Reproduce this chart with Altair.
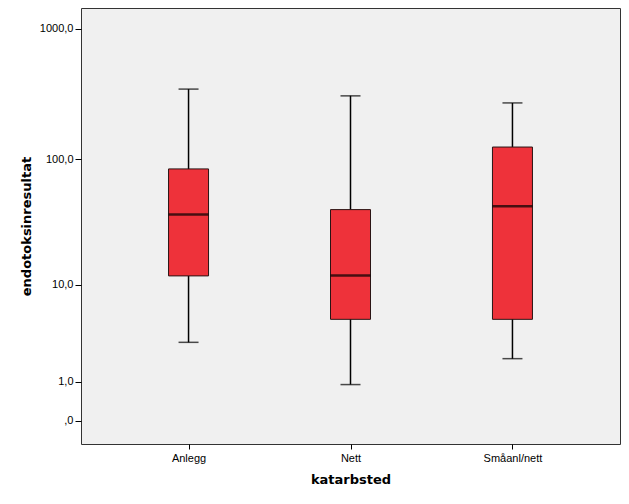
import altair as alt
import pandas as pd

categories = ["Anlegg", "Nett", "Småanl/nett"]
whisker_low = [3.0, 0.9, 2.0]
q1 = [11.9, 5.0, 5.0]
median = [37.0, 12.0, 43.0]
q3 = [84.0, 40.5, 124.0]
whisker_high = [346.0, 307.0, 271.0]
y_ticks = [0, 1, 10, 100, 1000]

df = pd.DataFrame({
    "cat": categories,
    "lo": whisker_low,
    "q1": q1,
    "med": median,
    "q3": q3,
    "hi": whisker_high,
})

yscale = alt.Scale(type="symlog", constant=1, domain=[-0.5, 1448], nice=False, zero=False)
xscale = alt.Scale(type="point", padding=0.664, domain=categories)

xaxis = alt.Axis(
    title="katarbsted", labelAngle=0, domain=False, ticks=True, tickSize=5,
    tickColor="#000", labelFont="Liberation Sans", labelFontSize=11, labelColor="#000",
    labelPadding=3, titleFont="DejaVu Sans", titleFontSize=13, titleFontWeight="bold",
    titleColor="#000", titlePadding=10, grid=False,
)
yaxis = alt.Axis(
    title="endotoksinresultat", values=y_ticks, domain=False, ticks=True, tickSize=6,
    tickColor="#000", labelFont="Liberation Sans", labelFontSize=11, labelColor="#000",
    labelPadding=2,
    labelExpr="datum.value == 0 ? ',0' : replace(format(datum.value, '.1f'), '.', ',')",
    titleFont="DejaVu Sans", titleFontSize=13, titleFontWeight="bold", titleColor="#000",
    titlePadding=6, grid=False,
)

base = alt.Chart(df)

whisk = base.mark_rule(color="#000", strokeWidth=1.5).encode(
    x=alt.X("cat:N", scale=xscale, axis=xaxis, sort=categories),
    y=alt.Y("lo:Q", scale=yscale, axis=yaxis),
    y2="hi:Q",
)
cap_lo = base.mark_tick(color="#000", size=20, thickness=1.5, orient="horizontal").encode(
    x=alt.X("cat:N", scale=xscale, sort=categories),
    y=alt.Y("lo:Q", scale=yscale),
)
cap_hi = base.mark_tick(color="#000", size=20, thickness=1.5, orient="horizontal").encode(
    x=alt.X("cat:N", scale=xscale, sort=categories),
    y=alt.Y("hi:Q", scale=yscale),
)
box = base.mark_bar(size=40, fill="#EE323A", stroke="#2a1414", strokeWidth=1).encode(
    x=alt.X("cat:N", scale=xscale, sort=categories),
    y=alt.Y("q1:Q", scale=yscale),
    y2="q3:Q",
)
med = base.mark_tick(color="#000", size=40, thickness=2.5, orient="horizontal").encode(
    x=alt.X("cat:N", scale=xscale, sort=categories),
    y=alt.Y("med:Q", scale=yscale),
)

chart = alt.layer(whisk, cap_lo, cap_hi, box, med).properties(
    width=539, height=436,
    autosize=alt.AutoSizeParams(type="none"),
    padding={"left": 73, "top": 0, "right": 1, "bottom": 52},
    background="#FFFFFF",
).configure_view(
    fill="#F0F0F0", stroke="#333", strokeWidth=1,
)

chart.save("out.html", embed_options={"renderer": "svg", "actions": False})
